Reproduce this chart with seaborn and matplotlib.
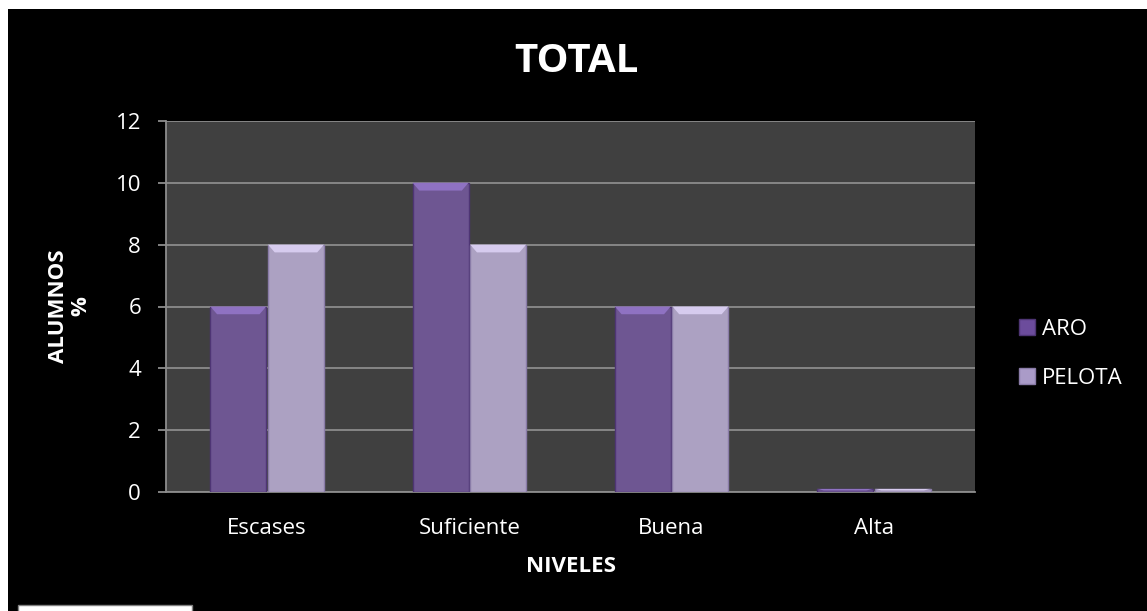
import matplotlib
matplotlib.use("Agg")
import matplotlib.pyplot as plt
import matplotlib.patches as mpatches
from matplotlib.lines import Line2D
import seaborn as sns
import pandas as pd

niveles = ["Escases", "Suficiente", "Buena", "Alta"]
aro = [6, 10, 6, 0.1]
pelota = [8, 8, 6, 0.1]
series = ["ARO", "PELOTA"]
y_ticks = [0, 2, 4, 6, 8, 10, 12]

df = pd.DataFrame({
    "nivel": niveles * 2,
    "valor": aro + pelota,
    "serie": [series[0]] * len(niveles) + [series[1]] * len(niveles),
})

sns.set_theme(style="dark")
plt.rcParams["font.family"] = ["Open Sans", "DejaVu Sans"]

colors = {"ARO": "#6c4c9c", "PELOTA": "#aa9bc8"}
edge_colors = {"ARO": "#4e3574", "PELOTA": "#8a7ca8"}
top_colors = {"ARO": "#8f72c2", "PELOTA": "#d6cbee"}

fig = plt.figure(figsize=(11.47, 6.11), dpi=100, facecolor="white")
# black chart area
fig.patches.append(mpatches.Rectangle((8 / 1147, 0), 1 - 8 / 1147, 1 - 9 / 611,
                                      transform=fig.transFigure, facecolor="black",
                                      edgecolor="none", zorder=-2))
fig.patches.append(mpatches.Rectangle((18 / 1147, -0.01), 174 / 1147, 6 / 611 + 0.01,
                                      transform=fig.transFigure, facecolor="white",
                                      edgecolor="#808080", linewidth=1, zorder=-1))

ax = fig.add_axes([166 / 1147, 1 - 492 / 611, (975 - 166) / 1147, (492 - 121) / 611])
ax.set_zorder(1)
ax.set_facecolor("#404040")

sns.barplot(data=df, x="nivel", y="valor", hue="serie", order=niveles,
            hue_order=series, palette=colors, width=0.57, gap=0.03,
            ax=ax, legend=False, zorder=3)

bars = list(ax.patches)
for i, bar in enumerate(bars[:2 * len(niveles)]):
    s = series[i // len(niveles)]
    bar.set_edgecolor(edge_colors[s])
    bar.set_linewidth(1.0)
    # bevel highlight along the top of each bar
    x0, w, h = bar.get_x(), bar.get_width(), bar.get_height()
    bev = min(0.25, h * 0.5)
    inset = w * 0.12
    ax.add_patch(mpatches.Polygon(
        [(x0, h), (x0 + w, h), (x0 + w - inset, h - bev), (x0 + inset, h - bev)],
        closed=True, facecolor=top_colors[s], edgecolor="none", zorder=4))

ax.set_ylim(0, 12)
ax.set_yticks(y_ticks)
ax.set_yticklabels([str(t) for t in y_ticks])
ax.grid(axis="y", color="#8c8c8c", linewidth=1.3, zorder=1)
ax.grid(axis="x", visible=False)
ax.set_axisbelow(True)
for side in ["top", "right"]:
    ax.spines[side].set_visible(False)
for side in ["left", "bottom"]:
    ax.spines[side].set_visible(True)
    ax.spines[side].set_color("#8c8c8c")
    ax.spines[side].set_linewidth(1.3)
ax.tick_params(axis="y", left=True, length=6, color="#8c8c8c", width=1.3,
               labelsize=16, labelcolor="white", pad=12)
ax.tick_params(axis="x", bottom=False, labelsize=16, labelcolor="white", pad=13)

ax.set_xlabel("NIVELES", color="white", fontsize=16, fontweight="bold")
ax.xaxis.label.set_va("center")
ax.xaxis.set_label_coords(0.5, (492 - 567) / 371)
ax.set_ylabel("ALUMNOS\n%", color="white", fontsize=16, fontweight="bold",
              linespacing=1.1)
ax.yaxis.label.set_va("center")
ax.yaxis.set_label_coords((70 - 166) / 809, 0.5)

fig.text(576 / 1147, 1 - 61 / 611, "TOTAL", color="white", fontsize=29,
         fontweight="bold", ha="center", va="center")

handles = [Line2D([], [], marker="s", linestyle="none", markersize=11,
                  markerfacecolor=colors[s], markeredgecolor=edge_colors[s]) for s in series]
leg = fig.legend(handles, series, loc="center left",
                 bbox_to_anchor=(996 / 1147, 1 - 354 / 611), frameon=False,
                 fontsize=16, labelcolor="white", handletextpad=0.15,
                 labelspacing=1.25, handlelength=1.0)

fig.savefig("out.png", dpi=100, facecolor=fig.get_facecolor())
